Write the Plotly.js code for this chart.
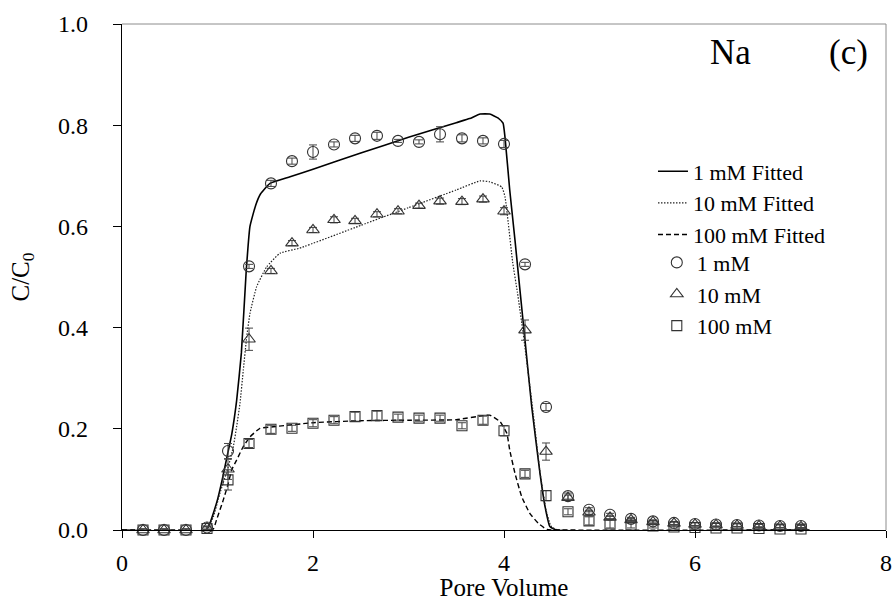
<!DOCTYPE html>
<html>
<head>
<meta charset="utf-8">
<script src="https://cdn.plot.ly/plotly-3.0.1.min.js"></script>
<style>
html,body{margin:0;padding:0;background:#fff;}
#chart{width:895px;height:601px;}
</style>
</head>
<body>
<div id="chart"></div>
<script>
// Measured pore volumes (samples)
const poreVolume = [0.22, 0.44, 0.67, 0.89, 1.11, 1.33, 1.56, 1.78, 2.00, 2.22, 2.44, 2.67, 2.89, 3.11, 3.33, 3.56,
                    3.78, 4.00, 4.22, 4.44, 4.67, 4.89, 5.11, 5.33, 5.56, 5.78, 6.00, 6.22, 6.44, 6.67, 6.89, 7.11];
// Observed C/C0
const obs1mM   = [0, 0, 0, 0.005, 0.156, 0.521, 0.685, 0.729, 0.747, 0.762, 0.774, 0.779, 0.769, 0.767, 0.782, 0.774,
                  0.769, 0.763, 0.525, 0.243, 0.067, 0.040, 0.030, 0.022, 0.017, 0.014, 0.012, 0.011, 0.010, 0.009, 0.008, 0.008];
const err1mM   = [0.002, 0.002, 0.002, 0.003, 0.015, 0.004, 0.006, 0.006, 0.014, 0.005, 0.006, 0.007, 0.003, 0.004, 0.015, 0.007,
                  0.006, 0.007, 0.004, 0.007, 0.006, 0.004, 0.003, 0.003, 0.003, 0.003, 0.003, 0.003, 0.003, 0.003, 0.003, 0.003];
const obs10mM  = [0, 0, 0, 0.004, 0.120, 0.377, 0.512, 0.567, 0.593, 0.613, 0.611, 0.624, 0.630, 0.641, 0.650, 0.649,
                  0.654, 0.630, 0.395, 0.155, 0.064, 0.035, 0.025, 0.020, 0.016, 0.013, 0.011, 0.010, 0.009, 0.008, 0.007, 0.006];
const err10mM  = [0.002, 0.002, 0.002, 0.003, 0.020, 0.022, 0.005, 0.005, 0.005, 0.006, 0.005, 0.005, 0.005, 0.005, 0.006, 0.006,
                  0.006, 0.007, 0.020, 0.017, 0.005, 0.004, 0.003, 0.003, 0.003, 0.003, 0.003, 0.003, 0.003, 0.003, 0.003, 0.003];
const obs100mM = [0, 0, 0, 0.003, 0.099, 0.171, 0.199, 0.201, 0.211, 0.217, 0.224, 0.226, 0.223, 0.221, 0.221, 0.206,
                  0.217, 0.196, 0.111, 0.068, 0.036, 0.018, 0.012, 0.010, 0.008, 0.006, 0.005, 0.004, 0.004, 0.003, 0.002, 0.002];
const err100mM = [0.002, 0.002, 0.002, 0.003, 0.020, 0.008, 0.008, 0.006, 0.007, 0.007, 0.009, 0.009, 0.006, 0.006, 0.006, 0.006,
                  0.008, 0.010, 0.007, 0.010, 0.006, 0.008, 0.008, 0.006, 0.004, 0.004, 0.003, 0.003, 0.003, 0.003, 0.003, 0.003];

// Fitted curves
const fit1mMX = [0, 0.88, 0.92, 0.96, 1.00, 1.05, 1.10, 1.15, 1.20, 1.25, 1.30, 1.34, 1.40, 1.45, 1.55, 1.76, 2.00, 2.50,
                 3.00, 3.50, 3.64, 3.75, 3.85, 3.94, 3.99, 4.01, 4.06, 4.115, 4.167, 4.22, 4.29, 4.377, 4.43, 4.48, 4.55, 7.2];
const fit1mMY = [0, 0, 0.013, 0.035, 0.060, 0.100, 0.145, 0.190, 0.255, 0.350, 0.510, 0.600, 0.642, 0.664, 0.685, 0.698, 0.713, 0.745,
                 0.776, 0.805, 0.813, 0.822, 0.822, 0.814, 0.804, 0.777, 0.672, 0.573, 0.474, 0.375, 0.244, 0.112, 0.046, 0.007, 0, 0];
const fit10mMX = [0, 0.88, 0.956, 1.026, 1.113, 1.166, 1.20, 1.236, 1.27, 1.306, 1.34, 1.41, 1.515, 1.654, 1.86, 2.50, 3.00,
                  3.50, 3.75, 3.85, 3.976, 4.01, 4.045, 4.09, 4.14, 4.20, 4.26, 4.30, 4.38, 4.44, 4.49, 4.56, 7.2];
const fit10mMY = [0, 0, 0.026, 0.073, 0.125, 0.165, 0.204, 0.251, 0.316, 0.382, 0.428, 0.481, 0.520, 0.547, 0.557, 0.602, 0.637,
                  0.672, 0.690, 0.688, 0.678, 0.659, 0.606, 0.530, 0.470, 0.390, 0.300, 0.240, 0.110, 0.040, 0.008, 0, 0];
const fit100mMX = [0, 0.60, 0.75, 0.88, 0.956, 0.99, 1.06, 1.113, 1.149, 1.20, 1.27, 1.34, 1.445, 1.584, 2.00, 2.50, 3.00, 3.50,
                   3.78, 3.85, 3.96, 4.03, 4.06, 4.115, 4.185, 4.27, 4.36, 4.45, 4.60, 7.2];
const fit100mMY = [0, 0, -0.003, -0.002, 0.002, 0.020, 0.059, 0.092, 0.119, 0.138, 0.165, 0.184, 0.201, 0.204, 0.212, 0.216, 0.217, 0.218,
                   0.226, 0.227, 0.214, 0.191, 0.158, 0.112, 0.066, 0.033, 0.013, 0.001, 0, 0];

const seriesNames = ['1 mM Fitted', '10 mM Fitted', '100 mM Fitted', '1 mM', '10 mM', '100 mM'];
const tickValsX = [0, 2, 4, 6, 8];
const tickValsY = [0, 0.2, 0.4, 0.6, 0.8, 1.0];

const FONT = 'Liberation Serif';
const MK = '#333333';

function errBar(arr) {
  return {type: 'data', array: arr, visible: true, color: '#444444', thickness: 1, width: 4};
}

const traces = [
  {x: fit1mMX, y: fit1mMY, name: seriesNames[0], type: 'scatter', mode: 'lines', legend: 'legend',
   line: {color: '#000', width: 1.6, dash: 'solid', shape: 'spline', smoothing: 0.4}},
  {x: fit10mMX, y: fit10mMY, name: seriesNames[1], type: 'scatter', mode: 'lines', legend: 'legend',
   line: {color: '#222', width: 1.2, dash: '1.5px,1.5px', shape: 'spline', smoothing: 0.4}},
  {x: fit100mMX, y: fit100mMY, name: seriesNames[2], type: 'scatter', mode: 'lines', legend: 'legend',
   line: {color: '#000', width: 1.4, dash: '5px,3px', shape: 'spline', smoothing: 0.4}},
  {x: poreVolume, y: obs1mM, name: seriesNames[3], type: 'scatter', mode: 'markers', cliponaxis: false, legend: 'legend2',
   marker: {symbol: 'circle-open', size: 11, color: MK, line: {width: 1.1, color: MK}}, error_y: errBar(err1mM)},
  {x: poreVolume, y: obs10mM, name: seriesNames[4], type: 'scatter', mode: 'markers', cliponaxis: false, legend: 'legend2',
   marker: {symbol: 'triangle-up-open', size: 11, color: MK, line: {width: 1.1, color: MK}}, error_y: errBar(err10mM)},
  {x: poreVolume, y: obs100mM, name: seriesNames[5], type: 'scatter', mode: 'markers', cliponaxis: false, legend: 'legend2',
   marker: {symbol: 'square-open', size: 10, color: MK, line: {width: 1.1, color: MK}}, error_y: errBar(err100mM)}
];

const legendFont = {family: FONT, size: 22, color: '#000'};
const tickFont = {family: FONT, size: 24, color: '#000'};
const titleFont = {family: FONT, size: 25, color: '#000'};

const layout = {
  width: 895, height: 601,
  margin: {l: 122, r: 9, t: 24, b: 71, pad: 0},
  paper_bgcolor: '#fff', plot_bgcolor: '#fff',
  font: {family: FONT, size: 22, color: '#000'},
  showlegend: true,
  legend: {
    x: 0.695, xanchor: 'left', y: 0.750, yanchor: 'top',
    font: legendFont, bgcolor: 'rgba(0,0,0,0)', borderwidth: 0, tracegroupgap: 0, itemwidth: 30
  },
  legend2: {
    x: 0.700, xanchor: 'left', y: 0.570, yanchor: 'top',
    font: legendFont, bgcolor: 'rgba(0,0,0,0)', borderwidth: 0, tracegroupgap: 0, itemwidth: 30
  },
  xaxis: {
    range: [0, 8], tickmode: 'array', tickvals: tickValsX, ticktext: tickValsX.map(String),
    ticks: 'outside', ticklen: 7, tickwidth: 1, tickcolor: '#000',
    showline: true, linecolor: '#000', linewidth: 1.3, mirror: false,
    showgrid: false, zeroline: false,
    tickfont: tickFont, ticklabelstandoff: 4,
    title: {text: 'Pore Volume', font: titleFont, standoff: 5}
  },
  yaxis: {
    range: [0, 1], tickmode: 'array', tickvals: tickValsY, ticktext: tickValsY.map(v => v.toFixed(1)),
    ticks: 'outside', ticklen: 8, tickwidth: 1, tickcolor: '#000',
    showline: true, linecolor: '#000', linewidth: 1.3, mirror: false,
    showgrid: false, zeroline: false,
    tickfont: tickFont, ticklabelstandoff: 20,
    title: {text: 'C/C<sub>0</sub>', font: titleFont, standoff: 21}
  },
  shapes: [
    {type: 'line', xref: 'paper', yref: 'paper', x0: 0, x1: 1, y0: 1, y1: 1, line: {color: '#8c8c8c', width: 1}},
    {type: 'line', xref: 'paper', yref: 'paper', x0: 1, x1: 1, y0: 0, y1: 1, line: {color: '#8c8c8c', width: 1}}
  ],
  annotations: [
    {text: 'Na', xref: 'paper', yref: 'paper', x: 0.797, y: 0.944, xanchor: 'center', yanchor: 'middle',
     showarrow: false, font: {family: FONT, size: 35, color: '#000'}},
    {text: '(c)', xref: 'paper', yref: 'paper', x: 0.951, y: 0.944, xanchor: 'center', yanchor: 'middle',
     showarrow: false, font: {family: FONT, size: 35, color: '#000'}}
  ]
};

Plotly.newPlot('chart', traces, layout, {displayModeBar: false, staticPlot: true});
</script>
</body>
</html>
